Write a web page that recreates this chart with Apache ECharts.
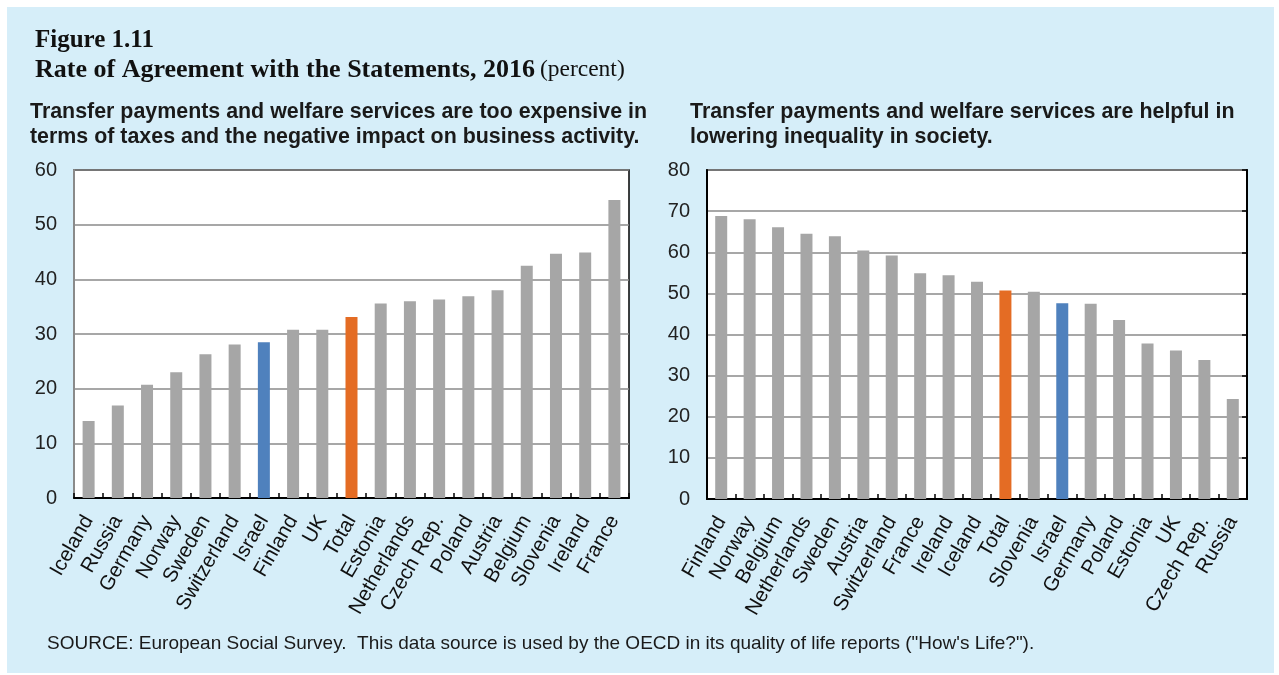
<!DOCTYPE html>
<html>
<head>
<meta charset="utf-8">
<script src="https://cdn.jsdelivr.net/npm/echarts@6/dist/echarts.min.js"></script>
<style>
  html, body { margin: 0; padding: 0; background: #ffffff; }
  #chart { width: 1279px; height: 675px; }
</style>
</head>
<body>
<div id="chart"></div>
<script>
// Left panel: "too expensive" statement
const expensiveCountries = ['Iceland', 'Russia', 'Germany', 'Norway', 'Sweden', 'Switzerland', 'Israel', 'Finland', 'UK', 'Total',
  'Estonia', 'Netherlands', 'Czech Rep.', 'Poland', 'Austria', 'Belgium', 'Slovenia', 'Ireland', 'France'];
const expensiveValues = [14.1, 16.9, 20.7, 23.0, 26.3, 28.1, 28.5, 30.8, 30.8, 33.1,
  35.6, 36.0, 36.3, 36.9, 38.0, 42.5, 44.7, 44.9, 54.5];

// Right panel: "helpful in lowering inequality" statement
const helpfulCountries = ['Finland', 'Norway', 'Belgium', 'Netherlands', 'Sweden', 'Austria', 'Switzerland', 'France', 'Ireland', 'Iceland',
  'Total', 'Slovenia', 'Israel', 'Germany', 'Poland', 'Estonia', 'UK', 'Czech Rep.', 'Russia'];
const helpfulValues = [68.8, 68.0, 66.1, 64.5, 63.9, 60.4, 59.2, 54.9, 54.4, 52.8,
  50.7, 50.4, 47.6, 47.5, 43.5, 37.8, 36.1, 33.8, 24.3];

const leftTicks = { min: 0, max: 60, interval: 10 };
const rightTicks = { min: 0, max: 80, interval: 10 };

const GRAY = '#a6a6a6';
const BLUE = '#4f81bd';
const ORANGE = '#e46c24';
const highlight = { 'Israel': BLUE, 'Total': ORANGE };

function barData(names, values) {
  return values.map((v, i) => ({
    value: v,
    itemStyle: { color: highlight[names[i]] || GRAY }
  }));
}

const SANS = '"Liberation Sans", Arial, sans-serif';
const SERIF = '"Liberation Serif", "Times New Roman", serif';

function catAxis(gridIndex, names) {
  return {
    type: 'category',
    gridIndex: gridIndex,
    data: names,
    axisLine: { lineStyle: { color: '#000', width: 2 } },
    axisTick: { show: true, inside: true, length: 5, lineStyle: { color: '#000', width: 1.5 } },
    axisLabel: {
      rotate: 60, interval: 0, margin: 19,
      fontFamily: SANS, fontSize: 20.5, color: '#111'
    },
    splitLine: { show: false }
  };
}

function valAxis(gridIndex, ticks, lineColor) {
  return {
    type: 'value',
    gridIndex: gridIndex,
    min: ticks.min, max: ticks.max, interval: ticks.interval,
    axisLine: { show: true, lineStyle: { color: lineColor, width: 2 } },
    axisTick: { show: false },
    axisLabel: { fontFamily: SANS, fontSize: 20, color: '#222', margin: 17 },
    splitLine: { show: true, lineStyle: { color: '#8a8a8a', width: 1.5 } }
  };
}

const chart = echarts.init(document.getElementById('chart'), null, { renderer: 'canvas' });

chart.setOption({
  animation: false,
  backgroundColor: '#ffffff',
  graphic: [
    { type: 'rect', z: -10, shape: { x: 7, y: 7, width: 1267, height: 666 }, style: { fill: '#d6eef9' } }
  ],
  title: [
    {
      text: 'Figure 1.11', left: 35, top: 28, padding: 0,
      textStyle: { fontFamily: SERIF, fontWeight: 'bold', fontSize: 25, color: '#111' }
    },
    {
      text: '{b|Rate of Agreement with the Statements, 2016} {n|(percent)}', left: 35, top: 57, padding: 0,
      textStyle: {
        rich: {
          b: { fontFamily: SERIF, fontWeight: 'bold', fontSize: 26, color: '#111' },
          n: { fontFamily: SERIF, fontWeight: 'normal', fontSize: 23.5, color: '#111' }
        }
      }
    },
    {
      text: 'Transfer payments and welfare services are too expensive in\nterms of taxes and the negative impact on business activity.',
      left: 30, top: 100, padding: 0,
      textStyle: { fontFamily: SANS, fontWeight: 'bold', fontSize: 21.4, lineHeight: 25, color: '#1a1a1a' }
    },
    {
      text: 'Transfer payments and welfare services are helpful in\nlowering inequality in society.',
      left: 690, top: 100, padding: 0,
      textStyle: { fontFamily: SANS, fontWeight: 'bold', fontSize: 21.4, lineHeight: 25, color: '#1a1a1a' }
    },
    {
      text: 'SOURCE: European Social Survey.  This data source is used by the OECD in its quality of life reports ("How\'s Life?").',
      left: 47, top: 634, padding: 0,
      textStyle: { fontFamily: SANS, fontWeight: 'normal', fontSize: 19, color: '#1a1a1a' }
    }
  ],
  grid: [
    { left: 74, top: 170, width: 555, height: 328, show: true, backgroundColor: '#ffffff', borderColor: '#000', borderWidth: 1.5 },
    { left: 707, top: 170, width: 540, height: 329, show: true, backgroundColor: '#ffffff', borderColor: '#000', borderWidth: 1.5 }
  ],
  xAxis: [
    catAxis(0, expensiveCountries),
    catAxis(1, helpfulCountries)
  ],
  yAxis: [
    valAxis(0, leftTicks, '#8a8a8a'),
    valAxis(1, rightTicks, '#000'),
    {
      type: 'value', gridIndex: 1, position: 'right',
      min: rightTicks.min, max: rightTicks.max, interval: rightTicks.interval,
      axisLine: { show: true, lineStyle: { color: '#000', width: 2 } },
      axisTick: { show: true, inside: true, length: 5, lineStyle: { color: '#000', width: 1.5 } },
      axisLabel: { show: false },
      splitLine: { show: false }
    }
  ],
  series: [
    {
      type: 'bar', xAxisIndex: 0, yAxisIndex: 0,
      barWidth: 12,
      data: barData(expensiveCountries, expensiveValues)
    },
    {
      type: 'bar', xAxisIndex: 1, yAxisIndex: 1,
      barWidth: 12,
      data: barData(helpfulCountries, helpfulValues)
    }
  ]
});
</script>
</body>
</html>
